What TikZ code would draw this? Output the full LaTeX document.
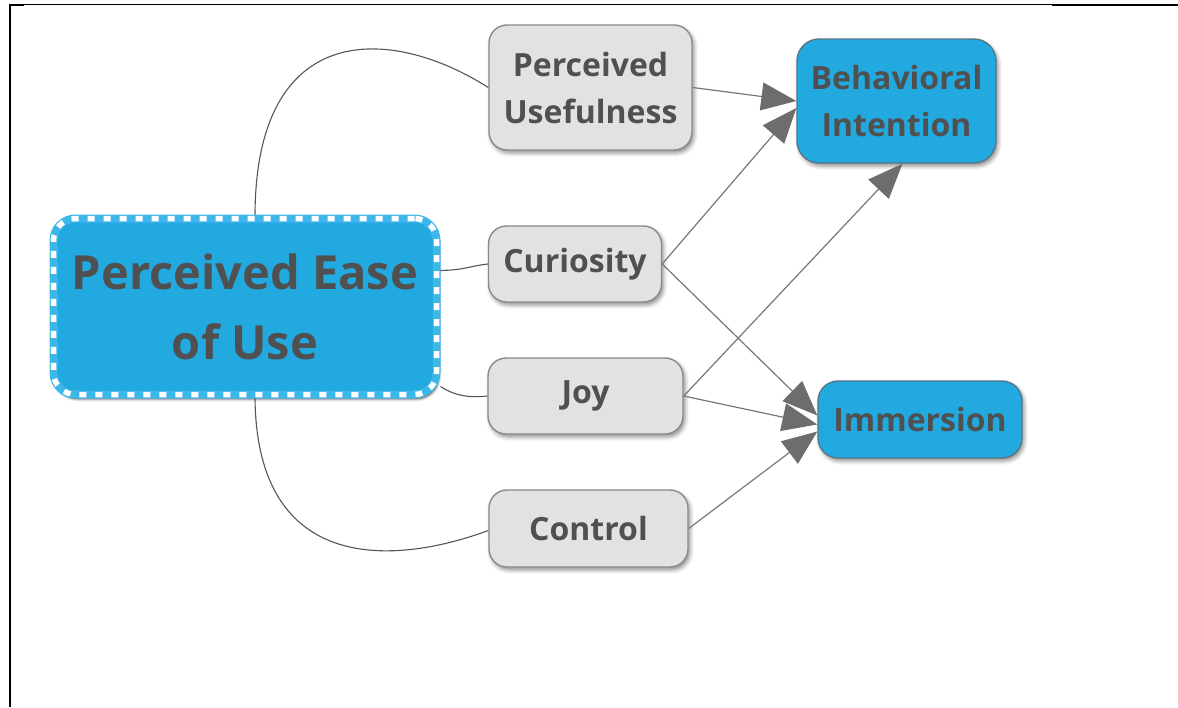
\documentclass[tikz,border=0pt]{standalone}
\usepackage{fontspec}
\setmainfont{Open Sans}
\usetikzlibrary{arrows.meta,shadows.blur}
\definecolor{nodeblue}{HTML}{22A9DF}
\definecolor{dashblue}{HTML}{3DB6EA}
\definecolor{boxgray}{HTML}{E2E2E2}
\definecolor{boxline}{HTML}{8A8A8A}
\definecolor{blueline}{HTML}{56768A}
\definecolor{txt}{HTML}{505050}
\definecolor{wire}{HTML}{777777}
\definecolor{curve}{HTML}{555555}
\definecolor{tipgray}{HTML}{6D6D6D}
\tikzset{
  smallbox/.style={rectangle, rounded corners=18pt, fill=boxgray, draw=boxline, line width=1.4pt,
    inner sep=0pt, align=center, text=txt, font=\fontsize{32}{47}\selectfont\bfseries,
    blur shadow={shadow xshift=2pt, shadow yshift=-3pt, shadow blur radius=4pt, shadow opacity=45}},
  bluebox/.style={smallbox, fill=nodeblue, draw=blueline, rounded corners=22pt},
  mainbox/.style={rectangle, rounded corners=22pt, fill=nodeblue, draw=dashblue, line width=8pt,
    inner sep=0pt, align=center, text=txt, font=\fontsize{47}{70}\selectfont\bfseries,
    blur shadow={shadow xshift=2pt, shadow yshift=-4pt, shadow blur radius=3pt, shadow opacity=90},
    postaction={draw=white, line width=5.5pt, dash pattern=on 7pt off 9pt}},
  link/.style={draw=curve, line width=1.1pt},
  arr/.style={draw=wire, line width=1.2pt, -{Triangle[length=35pt,width=28pt,fill=tipgray,color=tipgray]}},
}
\begin{document}
\begin{tikzpicture}[x=1pt,y=1pt]
\useasboundingbox (0,0) rectangle (1178,-707);
% frame lines
\draw[line width=1pt] (10,-4) -- (1052,-4);
\draw[line width=2.5pt] (1052,-5) -- (1178,-5);
\draw[line width=2.5pt] (10,-4) -- (10,-707);
\draw[line width=2.5pt] (9,-5) -- (24,-5);

% nodes
\node[mainbox, minimum width=383pt, minimum height=176pt] (peu) at (245,-306.5) {Perceived Ease\\of Use};
\node[smallbox, minimum width=203pt, minimum height=125pt] (pu) at (590.5,-87.5) {Perceived\\Usefulness};
\node[bluebox, minimum width=199pt, minimum height=124pt] (bi) at (896.5,-101) {Behavioral\\Intention};
\node[smallbox, minimum width=173pt, minimum height=76pt] (cur) at (575,-264) {Curiosity};
\node[smallbox, minimum width=195pt, minimum height=76pt] (joy) at (585.5,-396) {Joy};
\node[smallbox, minimum width=199pt, minimum height=77pt] (ctrl) at (588.5,-528.5) {Control};
\node[bluebox, minimum width=204pt, minimum height=77pt, rounded corners=20pt] (imm) at (920,-419.5) {Immersion};

% undirected links from main node
\draw[link] ([xshift=10pt]peu.north) .. controls (256,-20) and (390,-25) .. (pu.west);
\draw[link] ([yshift=36pt]peu.east) .. controls (465,-270) and (470,-266) .. (cur.west);
\draw[link] ([yshift=-80pt]peu.east) .. controls (455,-396) and (470,-398) .. (joy.west);
\draw[link] ([xshift=10pt]peu.south) .. controls (257,-575) and (395,-565) .. ([yshift=-2pt]ctrl.west);

% arrows
\draw[arr] (pu.east) -- (bi.west);
\draw[arr] (cur.east) -- ([yshift=-7pt]bi.west);
\draw[arr] (joy.east) -- ([xshift=6pt]bi.south);
\draw[arr] (cur.east) -- ([yshift=4pt]imm.west);
\draw[arr] (joy.east) -- ([yshift=-5pt]imm.west);
\draw[arr] (ctrl.east) -- ([yshift=-12pt]imm.west);
\end{tikzpicture}
\end{document}
